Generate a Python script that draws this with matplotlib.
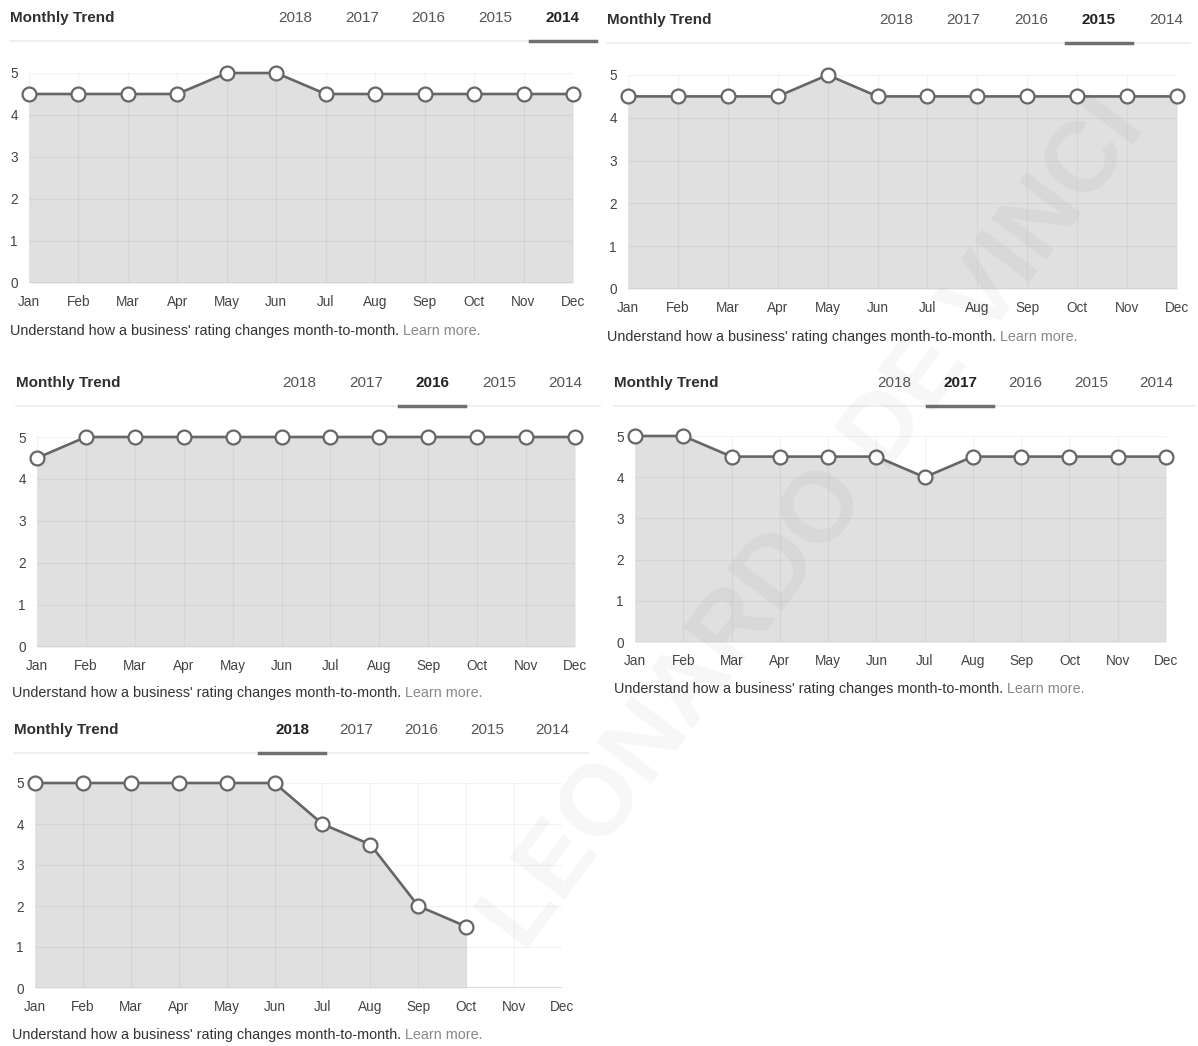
import matplotlib
matplotlib.use("Agg")
import matplotlib.pyplot as plt

plt.rcParams['font.family'] = ['Liberation Sans', 'DejaVu Sans']

W, H = 1198, 1046

months = ["Jan", "Feb", "Mar", "Apr", "May", "Jun",
          "Jul", "Aug", "Sep", "Oct", "Nov", "Dec"]
tab_years = ["2018", "2017", "2016", "2015", "2014"]
y_ticks = [0, 1, 2, 3, 4, 5]

rating_2014 = [4.5, 4.5, 4.5, 4.5, 5, 5, 4.5, 4.5, 4.5, 4.5, 4.5, 4.5]
rating_2015 = [4.5, 4.5, 4.5, 4.5, 5, 4.5, 4.5, 4.5, 4.5, 4.5, 4.5, 4.5]
rating_2016 = [4.5, 5, 5, 5, 5, 5, 5, 5, 5, 5, 5, 5]
rating_2017 = [5, 5, 4.5, 4.5, 4.5, 4.5, 4, 4.5, 4.5, 4.5, 4.5, 4.5]
rating_2018 = [5, 5, 5, 5, 5, 5, 4, 3.5, 2, 1.5]  # Jan - Oct only

caption = "Understand how a business' rating changes month-to-month."
learn_more = "Learn more."

# panel layout in pixels (x of header, header y, separator, tabs, plot box, caption)
panels = [
    dict(year="2014", data=rating_2014, hx=10, hy=18, sep=41, sx=(10, 597),
         tabs=[295, 362, 428, 495, 563], box=(29, 573, 73, 283), cap=(10, 331)),
    dict(year="2015", data=rating_2015, hx=607, hy=20, sep=43, sx=(607, 1190),
         tabs=[896, 963, 1031, 1099, 1166], box=(628, 1177, 75, 289), cap=(607, 337)),
    dict(year="2016", data=rating_2016, hx=16, hy=383, sep=406, sx=(16, 600),
         tabs=[299, 366, 432, 499, 565], box=(37, 575, 437, 647), cap=(12, 693)),
    dict(year="2017", data=rating_2017, hx=614, hy=383, sep=406, sx=(614, 1195),
         tabs=[894, 960, 1025, 1091, 1156], box=(635, 1166, 436, 642), cap=(614, 689)),
    dict(year="2018", data=rating_2018, hx=14, hy=730, sep=753, sx=(14, 588),
         tabs=[292, 356, 421, 487, 552], box=(35, 562, 783, 988), cap=(12, 1035)),
]

fig = plt.figure(figsize=(W / 100, H / 100), dpi=100)


def fx(x):
    return x / W


def fy(y):
    return 1 - y / H


for p in panels:
    # header
    fig.text(fx(p["hx"]), fy(p["hy"]), "Monthly Trend", fontsize=11,
             fontweight="bold", color="#303030", va="center", ha="left")
    for yr, tx in zip(tab_years, p["tabs"]):
        active = yr == p["year"]
        fig.text(fx(tx), fy(p["hy"]), yr, fontsize=11,
                 fontweight="bold" if active else "normal",
                 color="#222222" if active else "#555555", va="center", ha="center")
        if active:
            fig.add_artist(plt.Line2D([fx(tx - 33), fx(tx + 33)], [fy(p["sep"]), fy(p["sep"])],
                                      color="#707070", lw=2.5, zorder=3))
    fig.add_artist(plt.Line2D([fx(p["sx"][0]), fx(p["sx"][1])], [fy(p["sep"]), fy(p["sep"])],
                              color="#ececec", lw=1.2, zorder=2))

    # chart
    x0, x1, yt, yb = p["box"]
    ax = fig.add_axes([fx(x0), fy(yb), fx(x1) - fx(x0), fy(yt) - fy(yb)])
    xs = list(range(len(p["data"])))
    ax.fill_between(xs, 0, p["data"], color="#e0e0e0", lw=0, zorder=1)
    for i in range(len(months)):
        ax.axvline(i, color=(0, 0, 0, 0.045), lw=1, zorder=2)
    for v in y_ticks[1:]:
        ax.axhline(v, color=(0, 0, 0, 0.045), lw=1, zorder=2)
    ax.axhline(0, color="#d4d4d4", lw=1.2, zorder=2)
    ax.plot(xs, p["data"], color="#666666", lw=1.9, marker="o", markersize=10,
            markerfacecolor="white", markeredgecolor="#666666", markeredgewidth=1.6,
            zorder=4, clip_on=False)
    ax.set_xlim(0, len(months) - 1)
    ax.set_ylim(0, 5)
    ax.set_xticks(range(len(months)))
    ax.set_xticklabels(months)
    ax.set_yticks(y_ticks)
    ax.tick_params(length=0, labelsize=9.8, labelcolor="#444444")
    ax.tick_params(axis="y", pad=8)
    ax.tick_params(axis="x", pad=8.5)
    for s in ax.spines.values():
        s.set_visible(False)
    ax.set_facecolor("white")

    # caption
    t1 = fig.text(fx(p["cap"][0]), fy(p["cap"][1]), caption, fontsize=10.4,
                  color="#333333", va="center", ha="left")
    ax.annotate(learn_more, xy=(1, 0.5), xycoords=t1, xytext=(3, 0),
                textcoords="offset points", fontsize=10.4, color="#888888",
                va="center", ha="left", annotation_clip=False)

# faint watermark
fig.text(fx(815), fy(525), "LEONARDO DE VINCI", fontsize=72, fontweight="bold",
         color="black", alpha=0.035, rotation=53, ha="center", va="center", zorder=10)

fig.savefig("out.png", dpi=100, facecolor="white")
